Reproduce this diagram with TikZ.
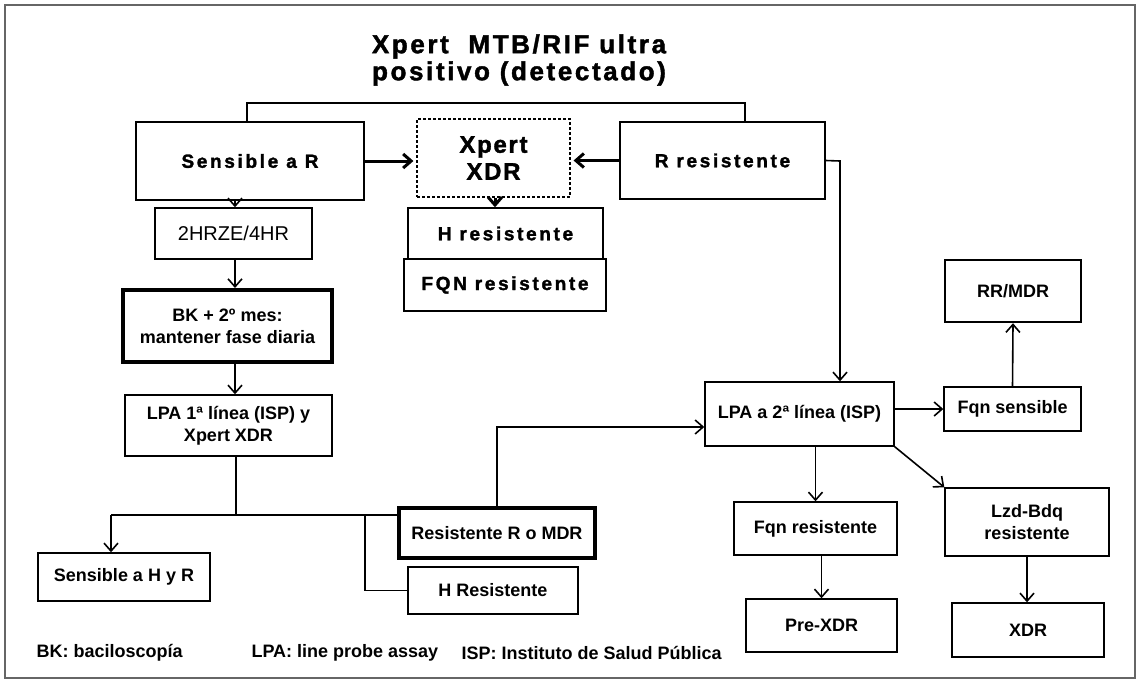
\documentclass[tikz,border=0pt]{standalone}
\usepackage{fontspec}
\setmainfont{Liberation Sans}
\usetikzlibrary{arrows.meta}

\tikzset{
  box/.style={draw, line width=1.4pt, align=center, inner sep=0pt,
    font=\bfseries\fontsize{18}{22}\selectfont},
  widebox/.style={box, font=\bfseries\fontsize{19}{23}\selectfont\addfontfeature{LetterSpace=14,FakeBold=1.6}},
  thickbox/.style={box, line width=4pt},
  link/.style={line width=1.6pt},
  arr/.style={line width=1.6pt, -{Straight Barb[length=8pt,width=14pt]}},
  bigarr/.style={line width=3pt, -{Straight Barb[length=8pt,width=14pt]}},
}

\begin{document}
\begin{tikzpicture}[x=1pt,y=-1pt]
\useasboundingbox (0,0) rectangle (1142,683);
\draw [line width=1.2pt, black!60] (5,5) rectangle (1135,678);

\node (title) [align=center, font=\bfseries\fontsize{26}{27}\selectfont\addfontfeature{LetterSpace=10,FakeBold=1.6}] at (519,60)
  {Xpert\ \ MTB/RIF ultra\\positivo (detectado)};

\node (sensR) [widebox, minimum width=228, minimum height=78] at (250,161) {Sensible a R};
\node (xdr) [box, dashed, line width=1.2pt, dash pattern=on 3pt off 2pt,
  font=\bfseries\fontsize{24}{27}\selectfont\addfontfeature{LetterSpace=7,FakeBold=1.6},
  minimum width=153, minimum height=78] at (493.5,158) {Xpert\\XDR};
\node (rres) [widebox, minimum width=205, minimum height=77] at (722.5,160.5) {R resistente};
\node (hres) [widebox, minimum width=195, minimum height=51] at (505.5,233.5) {H resistente};
\node (fqn) [widebox, minimum width=202, minimum height=52] at (505,285) {FQN resistente};

\node (hrze) [box, font=\fontsize{20}{24}\selectfont, minimum width=157, minimum height=51] at (233.5,233.5) {2HRZE/4HR};
\node (bk) [thickbox, minimum width=209, minimum height=72] at (227.5,326) {BK + 2º mes:\\mantener fase diaria};
\node (lpa1) [box, minimum width=207, minimum height=61] at (228.5,425.5) {LPA 1ª línea (ISP) y\\Xpert XDR};
\node (shr) [box, minimum width=172, minimum height=48] at (124,577) {Sensible a H y R};
\node (rmdr) [thickbox, minimum width=196, minimum height=50] at (497,533) {Resistente R o MDR};
\node (hR) [box, minimum width=170, minimum height=47] at (493,590.5) {H Resistente};

\node (lpa2) [box, minimum width=189, minimum height=64] at (799.5,414) {LPA a 2ª línea (ISP)};
\node (fqns) [box, minimum width=137, minimum height=44] at (1012.5,409) {Fqn sensible};
\node (rrmdr) [box, line width=2.4pt, minimum width=136, minimum height=62] at (1013,291) {RR/MDR};
\node (fqnr) [box, minimum width=163, minimum height=53] at (815.5,528.5) {Fqn resistente};
\node (lzd) [box, minimum width=164, minimum height=68] at (1027,522) {Lzd-Bdq\\resistente};
\node (prexdr) [box, minimum width=151, minimum height=53] at (821.5,625.5) {Pre-XDR};
\node (xdrf) [box, minimum width=152, minimum height=54] at (1028,630) {XDR};

\node (legBK) [anchor=west, font=\bfseries\fontsize{18}{22}\selectfont] at (33,653) {BK: baciloscopía};
\node (legLPA) [anchor=west, font=\bfseries\fontsize{18}{22}\selectfont] at (248,653) {LPA: line probe assay};
\node (legISP) [anchor=west, font=\bfseries\fontsize{18}{22}\selectfont] at (458,653) {ISP: Instituto de Salud Pública};

\coordinate (brL) at (247,103);
\coordinate (brR) at (745,103);
\draw [link] (sensR.north -| brL) -- (brL) -- (brR) -- (rres.north -| brR);

\draw [bigarr, shorten >=3pt] (sensR.east) -- (sensR.east -| xdr.west);
\draw [bigarr, shorten >=3pt] (rres.west) -- (rres.west -| xdr.east);
\draw [bigarr] ([xshift=1.5]xdr.south) -- ([xshift=1.5]xdr.south |- hres.north);

\coordinate (rturn) at (840,161);
\draw [arr] (rres.east) -- (rturn) -- (rturn |- lpa2.north);

\coordinate (lcol) at (235,0);
\draw [arr] (lcol |- sensR.south) -- (lcol |- hrze.north);
\draw [arr] (lcol |- hrze.south) -- (lcol |- bk.north);
\draw [arr] (lcol |- bk.south) -- (lcol |- lpa1.north);

\coordinate (split) at (236,515);
\coordinate (toSHR) at (111,515);
\coordinate (hbr) at (365,515);
\draw [link] (lpa1.south -| split) -- (split);
\draw [link] (toSHR) -- (toSHR -| rmdr.west);
\draw [arr] (toSHR) -- (toSHR |- shr.north);
\draw [link] (hbr) |- (hR.west);

\coordinate (up) at (497,427);
\draw [arr] (rmdr.north -| up) -- (up) -- (up -| lpa2.west);
\draw [arr] (lpa2.east |- fqns) -- (fqns.west);
\draw [arr] (fqns.north) -- (rrmdr.south);
\draw [arr] (fqnr.north |- lpa2.south) -- (fqnr.north);
\draw [arr] (lpa2.south east) -- (lzd.north west);
\draw [arr] (prexdr.north |- fqnr.south) -- (prexdr.north);
\draw [arr] (lzd.south) -- (lzd.south |- xdrf.north);
\end{tikzpicture}
\end{document}
